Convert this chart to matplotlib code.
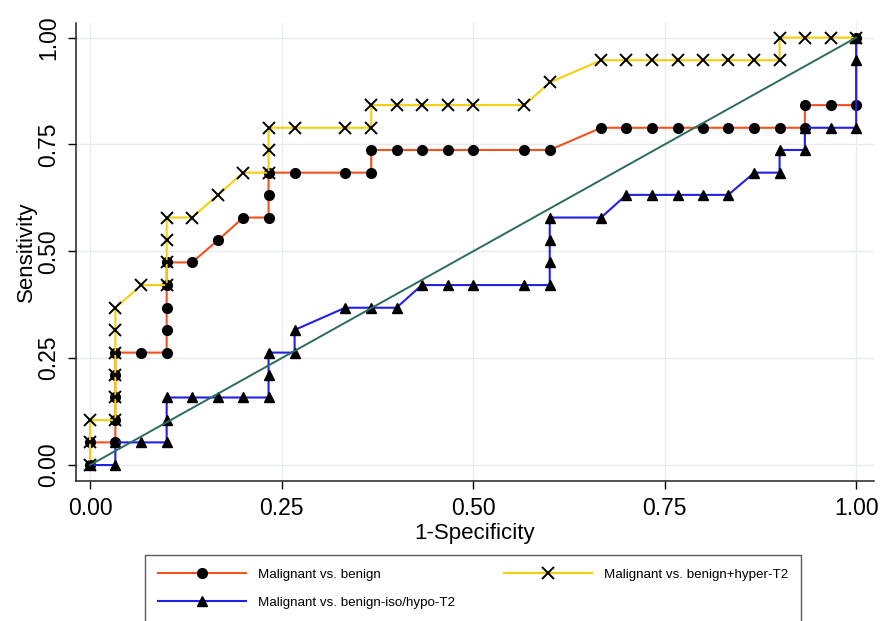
import matplotlib
matplotlib.use("Agg")
import matplotlib.pyplot as plt
from matplotlib import font_manager

# ROC points (1-specificity, sensitivity)
benign_fpr = [0.0, 0.0, 0.033, 0.033, 0.033, 0.033, 0.033, 0.067, 0.1, 0.1, 0.1, 0.1, 0.1,
              0.133, 0.167, 0.2, 0.233, 0.233, 0.233, 0.267, 0.333, 0.367, 0.367, 0.4, 0.433,
              0.467, 0.5, 0.567, 0.6, 0.667, 0.7, 0.733, 0.767, 0.8, 0.833, 0.867, 0.9, 0.933,
              0.933, 0.967, 1.0, 1.0]
benign_tpr = [0.0, 0.053, 0.053, 0.105, 0.158, 0.211, 0.263, 0.263, 0.263, 0.316, 0.368, 0.421,
              0.474, 0.474, 0.526, 0.579, 0.579, 0.632, 0.684, 0.684, 0.684, 0.684, 0.737, 0.737,
              0.737, 0.737, 0.737, 0.737, 0.737, 0.789, 0.789, 0.789, 0.789, 0.789, 0.789, 0.789,
              0.789, 0.789, 0.842, 0.842, 0.842, 1.0]

hyper_fpr = [0.0, 0.0, 0.0, 0.033, 0.033, 0.033, 0.033, 0.033, 0.033, 0.067, 0.1, 0.1, 0.1, 0.1,
             0.133, 0.167, 0.2, 0.233, 0.233, 0.233, 0.267, 0.333, 0.367, 0.367, 0.4, 0.433,
             0.467, 0.5, 0.567, 0.6, 0.667, 0.7, 0.733, 0.767, 0.8, 0.833, 0.867, 0.9, 0.9,
             0.933, 0.967, 1.0]
hyper_tpr = [0.0, 0.053, 0.105, 0.105, 0.158, 0.211, 0.263, 0.316, 0.368, 0.421, 0.421, 0.474,
             0.526, 0.579, 0.579, 0.632, 0.684, 0.684, 0.737, 0.789, 0.789, 0.789, 0.789, 0.842,
             0.842, 0.842, 0.842, 0.842, 0.842, 0.895, 0.947, 0.947, 0.947, 0.947, 0.947, 0.947,
             0.947, 0.947, 1.0, 1.0, 1.0, 1.0]

isohypo_fpr = [0.0, 0.033, 0.033, 0.067, 0.1, 0.1, 0.1, 0.133, 0.167, 0.2, 0.233, 0.233, 0.233,
               0.267, 0.267, 0.333, 0.367, 0.4, 0.433, 0.467, 0.5, 0.567, 0.6, 0.6, 0.6, 0.6,
               0.667, 0.7, 0.733, 0.767, 0.8, 0.833, 0.867, 0.9, 0.9, 0.933, 0.933, 0.967, 1.0,
               1.0, 1.0]
isohypo_tpr = [0.0, 0.0, 0.053, 0.053, 0.053, 0.105, 0.158, 0.158, 0.158, 0.158, 0.158, 0.211,
               0.263, 0.263, 0.316, 0.368, 0.368, 0.368, 0.421, 0.421, 0.421, 0.421, 0.421, 0.474,
               0.526, 0.579, 0.579, 0.632, 0.632, 0.632, 0.632, 0.632, 0.684, 0.684, 0.737, 0.737,
               0.789, 0.789, 0.789, 0.947, 1.0]

ref_line = [0.0, 1.0]
ticks = [0.0, 0.25, 0.5, 0.75, 1.0]
tick_labels = ["0.00", "0.25", "0.50", "0.75", "1.00"]

installed = {f.name for f in font_manager.fontManager.ttflist}
family = "Liberation Sans" if "Liberation Sans" in installed else "DejaVu Sans"
plt.rcParams["font.family"] = [family, "DejaVu Sans"]

fig = plt.figure(figsize=(8.8, 6.21), dpi=100)
ax = fig.add_axes([0.0864, 0.2254, 0.907, 0.7375])

ax.plot(benign_fpr, benign_tpr, color="#f4511e", lw=1.5, marker="o", ms=7,
        mfc="black", mec="black", label="Malignant vs. benign", zorder=3)
ax.plot(hyper_fpr, hyper_tpr, color="#f3cf0c", lw=1.5, marker="x", ms=8.5, mew=1.4,
        mfc="black", mec="black", label="Malignant vs. benign+hyper-T2", zorder=3)
ax.plot(isohypo_fpr, isohypo_tpr, color="#2020e6", lw=1.5, marker="^", ms=7.5,
        mfc="black", mec="black", label="Malignant vs. benign-iso/hypo-T2", zorder=3)
ax.plot(ref_line, ref_line, color="#2b6b5f", lw=1.4, zorder=4)

ax.set_xlim(-0.0183, 1.0235)
ax.set_ylim(-0.0374, 1.034)
ax.set_xticks(ticks)
ax.set_xticklabels(tick_labels)
ax.set_yticks(ticks)
ax.set_yticklabels(tick_labels, rotation=90, va="center")
ax.tick_params(axis="both", direction="out", length=5.8, width=1, labelsize=16.5, pad=5.5)
ax.grid(True, color="#e8ebeb", lw=1)
ax.set_axisbelow(True)

for side in ("top", "right"):
    ax.spines[side].set_visible(False)
for side in ("left", "bottom"):
    ax.spines[side].set_color("#222222")
    ax.spines[side].set_linewidth(1.1)

ax.set_xlabel("1-Specificity", fontsize=16)
ax.set_ylabel("Sensitivity", fontsize=16)
ax.xaxis.set_label_coords(0.499, -0.091)
ax.yaxis.set_label_coords(-0.049, 0.5)

# legend: order matches the reference (two columns, third entry under the first)
handles, labels = ax.get_legend_handles_labels()
order = [0, 2, 1]
leg = fig.legend([handles[i] for i in order], [labels[i] for i in order],
                 loc="upper left", bbox_to_anchor=(145 / 880, 1 - 555 / 621, 656 / 880, 0),
                 mode="expand", ncol=2, fontsize=9.6, frameon=True, fancybox=False,
                 edgecolor="#333333", handlelength=6.6, handletextpad=0.9,
                 labelspacing=1.2, borderpad=1.0, borderaxespad=0, columnspacing=3)
leg.get_frame().set_linewidth(1.0)

fig.savefig("out.png", dpi=100)
